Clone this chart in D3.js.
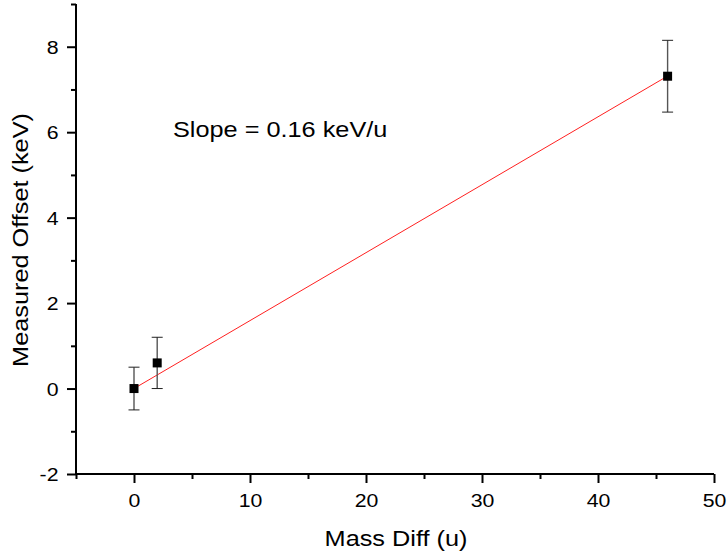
<!DOCTYPE html>
<html><head><meta charset="utf-8">
<script src="https://cdn.jsdelivr.net/npm/d3@7"></script>
<style>body{margin:0;background:#fff}svg{display:block}text{font-family:Arial,"Liberation Sans",sans-serif;fill:#000}</style>
</head><body><svg id="c" width="727" height="554"></svg>
<script>
const massDiff = [0, 2, 46];
const offset = [0, 0.6, 7.31];
const offsetErr = [0.5, 0.6, 0.84];
const fitSlope = 0.159;
const fitIntercept = 0.0;
const fitRange = [0, 46];
const xTicks = [0, 10, 20, 30, 40, 50];
const yTicks = [-2, 0, 2, 4, 6, 8];
const xMinor = [-5, 5, 15, 25, 35, 45];
const yMinor = [-1, 1, 3, 5, 7, 9];
const xTitle = "Mass Diff (u)";
const yTitle = "Measured Offset (keV)";
const note = "Slope = 0.16 keV/u";

const SX = 1.15; // lettering in the reference is wider than plain Arial
const svg = d3.select("#c");
const L = 76, R = 714, T = 4, B = 474;
const x = d3.scaleLinear().domain([-5, 50]).range([L, R]);
const y = d3.scaleLinear().domain([-2, 9]).range([B, T]);

const fmt = d => String(d);
const xa = svg.append("g").attr("transform", `translate(0,${B})`)
  .call(d3.axisBottom(x).tickValues(xTicks).tickSize(9).tickFormat(fmt));
const xm = svg.append("g").attr("transform", `translate(0,${B})`)
  .call(d3.axisBottom(x).tickValues(xMinor).tickSize(5).tickFormat(""));
const ya = svg.append("g").attr("transform", `translate(${L},0)`)
  .call(d3.axisLeft(y).tickValues(yTicks).tickSize(9).tickFormat(fmt));
const ym = svg.append("g").attr("transform", `translate(${L},0)`)
  .call(d3.axisLeft(y).tickValues(yMinor).tickSize(5).tickFormat(""));
[xa, xm, ya, ym].forEach(g => {
  g.select(".domain").attr("stroke", "#000").attr("stroke-width", 2);
  g.selectAll(".tick line").attr("stroke", "#000").attr("stroke-width", 2);
  g.selectAll(".tick text").style("font-size", "18.5px").attr("fill", "#000");
});
xm.select(".domain").remove(); ym.select(".domain").remove();
xa.select(".domain").attr("d", `M${L},0H${R}`);
ya.select(".domain").attr("d", `M0,${B}V${T}`);
xa.selectAll(".tick text").attr("y", 33).attr("dy", null).attr("transform", `scale(${SX},1)`);
ya.selectAll(".tick text").attr("x", -17.5 / SX).attr("dy", "0.35em").attr("transform", `scale(${SX},1)`);

// fit line
svg.append("line")
  .attr("x1", x(fitRange[0])).attr("y1", y(fitIntercept + fitSlope * fitRange[0]))
  .attr("x2", x(fitRange[1])).attr("y2", y(fitIntercept + fitSlope * fitRange[1]))
  .attr("stroke", "#ff2020").attr("stroke-width", 1);

// error bars
const pts = massDiff.map((d, i) => ({x: d, y: offset[i], e: offsetErr[i]}));
const eb = svg.append("g").selectAll("g").data(pts).join("g");
eb.append("line").attr("x1", d => x(d.x)).attr("x2", d => x(d.x))
  .attr("y1", d => y(d.y + d.e)).attr("y2", d => y(d.y - d.e))
  .attr("stroke", "#555").attr("stroke-width", 1.4);
eb.append("line").attr("x1", d => x(d.x) - 5.5).attr("x2", d => x(d.x) + 5.5)
  .attr("y1", d => y(d.y + d.e)).attr("y2", d => y(d.y + d.e))
  .attr("stroke", "#222").attr("stroke-width", 1);
eb.append("line").attr("x1", d => x(d.x) - 5.5).attr("x2", d => x(d.x) + 5.5)
  .attr("y1", d => y(d.y - d.e)).attr("y2", d => y(d.y - d.e))
  .attr("stroke", "#222").attr("stroke-width", 1);

// markers
svg.append("g").selectAll("rect").data(pts).join("rect")
  .attr("x", d => x(d.x) - 4.5).attr("y", d => y(d.y) - 4.5)
  .attr("width", 9).attr("height", 9).attr("fill", "#000");

// titles
svg.append("text").attr("transform", `translate(${(L + R) / 2 + 1},546) scale(${SX},1)`)
  .attr("text-anchor", "middle").style("font-size", "22px").text(xTitle);
svg.append("text").attr("transform", `translate(28,${(T + B) / 2 + 1}) rotate(-90) scale(${SX},1)`)
  .attr("text-anchor", "middle").style("font-size", "22px").text(yTitle);
svg.append("text").attr("transform", `translate(173,137) scale(${SX},1)`)
  .style("font-size", "22px").text(note);
</script></body></html>
